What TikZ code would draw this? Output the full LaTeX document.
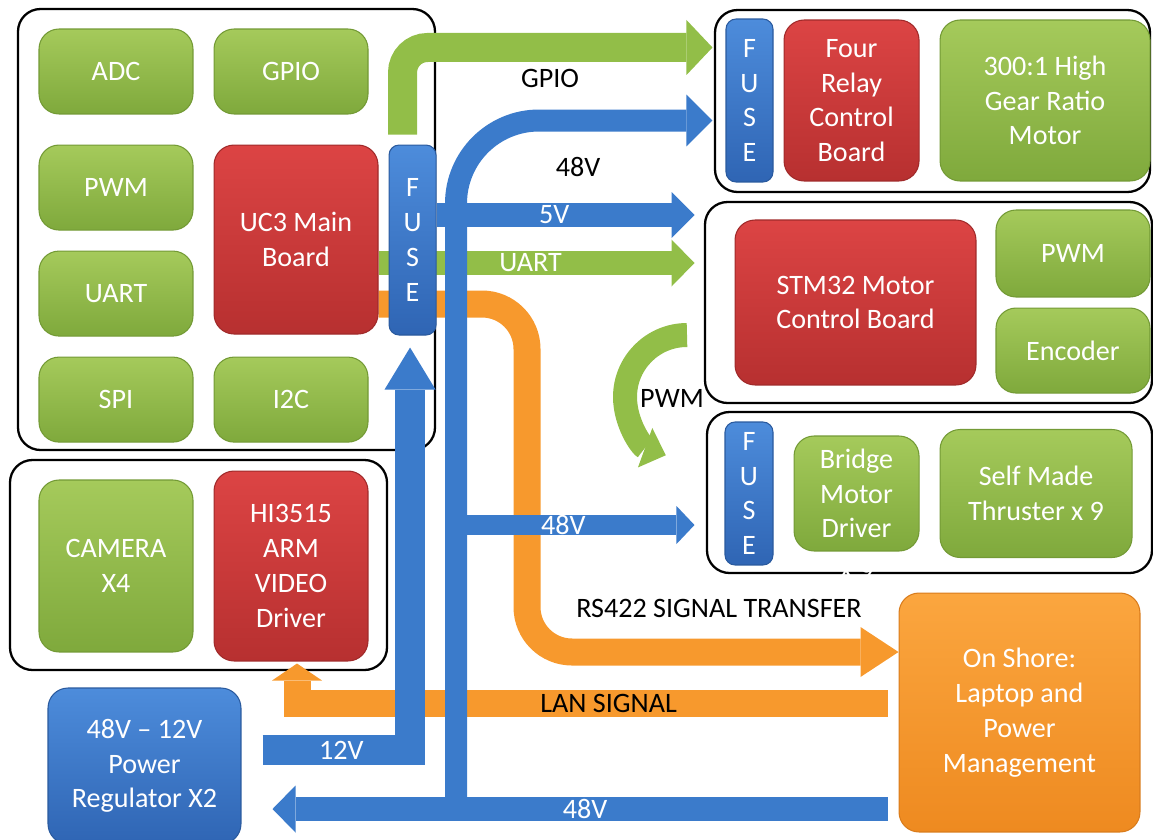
\documentclass[tikz,border=0pt]{standalone}
\usepackage{fontspec}
\setmainfont{Carlito}
\usetikzlibrary{arrows.meta, positioning}

\definecolor{greentop}{HTML}{A5CA5B}
\definecolor{greenbot}{HTML}{7FA93C}
\definecolor{greenedge}{HTML}{739A35}
\definecolor{redtop}{HTML}{DC4444}
\definecolor{redbot}{HTML}{B73030}
\definecolor{rededge}{HTML}{A02A2A}
\definecolor{bluetop}{HTML}{4D8CDB}
\definecolor{bluebot}{HTML}{2F65B4}
\definecolor{blueedge}{HTML}{2A5A9E}
\definecolor{orangetop}{HTML}{FBA63F}
\definecolor{orangebot}{HTML}{EE8A20}
\definecolor{orangeedge}{HTML}{D97C1C}
\definecolor{pipegreen}{HTML}{92BE48}
\definecolor{pipeblue}{HTML}{3B7BCB}
\definecolor{pipeorange}{HTML}{F7992D}

\pgfdeclarelayer{frames}
\pgfdeclarelayer{pipes}
\pgfsetlayers{frames,pipes,main}

\begin{document}
\begin{tikzpicture}[x=0.02cm, y=-0.02cm, font=\fontsize{16}{19.8}\selectfont]
    % Styles for boxes, frames and pipes
    \tikzstyle{box} = [rectangle, rounded corners=0.4cm, text=white, align=center, line width=0.6pt]
    \tikzstyle{greenbox} = [box, top color=greentop, bottom color=greenbot, draw=greenedge]
    \tikzstyle{redbox} = [box, top color=redtop, bottom color=redbot, draw=rededge]
    \tikzstyle{bluebox} = [box, top color=bluetop, bottom color=bluebot, draw=blueedge]
    \tikzstyle{orangebox} = [box, top color=orangetop, bottom color=orangebot, draw=orangeedge]
    \tikzstyle{iobox} = [greenbox, minimum width=3.08cm, minimum height=1.7cm]
    \tikzstyle{fuse} = [bluebox, rounded corners=0.2cm, minimum width=0.94cm]
    \tikzstyle{unitframe} = [draw, line width=1.3pt, rounded corners=0.45cm]
    \tikzstyle{pipe} = [line width=0.48cm]
    \tikzstyle{greenpipe} = [pipe, draw=pipegreen]
    \tikzstyle{bluepipe} = [pipe, draw=pipeblue]
    \tikzstyle{orangepipe} = [pipe, draw=pipeorange, line width=0.54cm]
    \tikzstyle{pipelabel} = [text=black]
    \tikzstyle{pipetext} = [text=white]

    \useasboundingbox (0,0) rectangle (1153,839);

    % Main board unit
    \node[iobox] (adc) at (116,71.5) {ADC};
    \node[iobox, right=0.4cm of adc] (gpio) {GPIO};
    \node[iobox, below=0.6cm of adc] (pwm) {PWM};
    \node[iobox, below=0.4cm of pwm] (uart) {UART};
    \node[iobox, below=0.4cm of uart] (spi) {SPI};
    \node[iobox, right=0.4cm of spi] (itwoc) {I2C};
    \node[redbox, minimum width=3.28cm, minimum height=3.78cm, right=0.4cm of pwm.north east, anchor=north west] (uc3) {UC3 Main\\Board};
    \node[fuse, minimum height=3.8cm, right=0.2cm of uc3.north east, anchor=north west] (fuseA) {F\\U\\S\\E};

    % Video unit
    \node[greenbox, minimum width=3.08cm, minimum height=3.44cm] (camera) at (116,566) {CAMERA\\X4};
    \node[redbox, minimum width=3.08cm, minimum height=3.8cm, right=0.4cm of camera] (hi3515) {HI3515\\ARM\\VIDEO\\Driver};

    % Power regulator
    \node[bluebox, minimum width=3.86cm, minimum height=3.12cm] (regulator) at (144.5,766) {48V -- 12V\\Power\\Regulator X2};

    % Relay unit
    \node[fuse, minimum height=3.26cm] (fuseB) at (749.5,100.5) {F\\U\\S\\E};
    \node[redbox, minimum width=2.7cm, minimum height=3.22cm, right=0.2cm of fuseB] (relay) {Four\\Relay\\Control\\Board};
    \node[greenbox, minimum width=4.2cm, minimum height=3.22cm, right=0.4cm of relay] (motor) {300:1 High\\Gear Ratio\\Motor};

    % Motor control unit
    \node[redbox, minimum width=4.82cm, minimum height=3.3cm] (stm) at (855.5,302.5) {STM32 Motor\\Control Board};
    \node[greenbox, minimum width=3.08cm, minimum height=1.74cm] (pwmB) at (1073,253.5) {PWM};
    \node[greenbox, minimum width=3.08cm, minimum height=1.7cm, below=0.2cm of pwmB] (encoder) {Encoder};

    % Thruster unit
    \node[fuse, minimum width=0.96cm, minimum height=2.86cm] (fuseC) at (749,493.5) {F\\U\\S\\E};
    \node[greenbox, minimum width=2.5cm, minimum height=2.3cm, right=0.4cm of fuseC] (bridge) {Bridge\\Motor\\Driver};
    \node[greenbox, minimum width=3.84cm, minimum height=2.56cm, right=0.4cm of bridge] (thruster) {Self Made\\Thruster x 9};
    \node[pipetext, below=0.1cm of bridge] (bridge count) {X 9};

    % Shore station
    \node[orangebox, minimum width=4.82cm, minimum height=4.78cm] (shore) at (1019.5,712.5) {On Shore:\\Laptop and\\Power\\Management};

    % Unit frames
    \begin{pgfonlayer}{frames}
        \draw[unitframe] (18,9) rectangle (435,450);
        \draw[unitframe] (10,460) rectangle (387,670);
        \draw[unitframe] (715,10) rectangle (1150,192);
        \draw[unitframe] (705,202) rectangle (1152,403);
        \draw[unitframe] (707,412) rectangle (1152,573);
    \end{pgfonlayer}

    % Pipe ends
    \coordinate (tap48) at (456,809);
    \coordinate (pwm out) at (687,335);

    % Pipes
    \begin{pgfonlayer}{pipes}
        \draw[orangepipe, rounded corners=0.9cm, -{Triangle[length=0.76cm, width=1.0cm, line width=0pt]}]
            (uc3.east |- 0,304) -- (527,304) -- (527,652) -- (shore.west |- 0,652);
        \draw[orangepipe, shorten <=0.22cm, shorten >=0.04cm, -{Triangle[length=0.34cm, width=1.0cm, line width=0pt]}]
            (shore.west |- 0,703) -| node[pipelabel, pos=0.241] {LAN SIGNAL} ([xshift=0.12cm]hi3515.south);
        \draw[greenpipe, shorten >=0.8cm, -{Triangle[length=0.46cm, width=0.94cm, line width=0pt]}]
            (uc3.east |- 0,263) -- node[pipetext, pos=0.427] {UART} (stm.west |- 0,263);
        \draw[greenpipe, line width=0.58cm, rounded corners=0.5cm, -{Triangle[length=0.52cm, width=1.1cm, line width=0pt]}]
            ([shift={(14,-10)}]fuseA.north west) |- ([shift={(-13,29)}]fuseB.north west);
        \draw[greenpipe, -{Triangle[length=0.44cm, width=0.84cm, line width=0pt]}]
            (pwm out) arc[start angle=90, end angle=250, radius=1.24cm];
        \draw[bluepipe, shorten >=0.8cm, -{Triangle[length=0.46cm, width=0.92cm, line width=0pt]}]
            (fuseA.east |- 0,215) -- node[pipetext, pos=0.395] {5V} (stm.west |- 0,215);
        \draw[bluepipe, line width=0.6cm, shorten <=0.42cm, shorten >=0.24cm, -{Triangle[length=0.84cm, width=1.02cm, line width=0pt]}]
            (regulator.east |- 0,750) -| node[pipetext, pos=0.296] {12V} ([xshift=-0.05cm]fuseA.south);
        \draw[bluepipe, line width=0.4cm, shorten >=0.6cm, -{Triangle[length=0.36cm, width=0.76cm, line width=0pt]}]
            (tap48 |- 0,525) -- node[pipetext, pos=0.4] {48V} (fuseC.west |- 0,525);
        \draw[bluepipe, line width=0.44cm, rounded corners=1.66cm, -{Triangle[length=0.52cm, width=1.04cm, line width=0pt]}]
            (tap48) |- ([shift={(-13,20)}]fuseB.west);
        \draw[bluepipe, shorten <=0.22cm, shorten >=0.62cm, -{Triangle[length=0.46cm, width=0.94cm, line width=0pt]}]
            (shore.west |- 0,809) -- node[pipetext, pos=0.477] {48V} (regulator.east |- 0,809);
    \end{pgfonlayer}

    % Labels
    \node[pipelabel] (gpio label) at (550,78) {GPIO};
    \node[pipelabel] (riser label) at (578,167) {48V};
    \node[pipelabel] (pwm label) at (672,398) {PWM};
    \node[pipelabel] (rs422 label) at (719,608) {RS422 SIGNAL TRANSFER};
\end{tikzpicture}
\end{document}
